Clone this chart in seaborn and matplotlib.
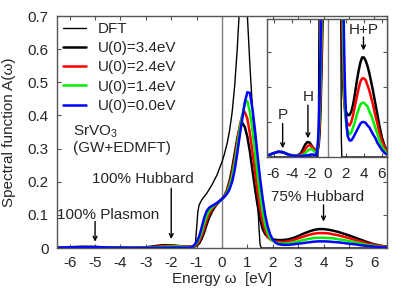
import numpy as np
import pandas as pd
import matplotlib
matplotlib.use("Agg")
import matplotlib.pyplot as plt
import seaborn as sns

# ---------------- data ----------------
omega = [-6.5, -6.0, -5.5, -5.0, -4.5, -4.0, -3.5, -3.0, -2.75, -2.5, -2.25, -2.0,
         -1.75, -1.5, -1.3, -1.2, -1.1, -1.0, -0.9, -0.8, -0.7, -0.6, -0.5, -0.4,
         -0.3, -0.2, -0.1, 0.0, 0.1, 0.2, 0.3, 0.4, 0.5, 0.6, 0.7, 0.8, 0.9, 1.0,
         1.1, 1.2, 1.3, 1.4, 1.5, 1.6, 1.7, 1.8, 1.9, 2.0, 2.1, 2.2, 2.4, 2.6, 2.8,
         3.0, 3.2, 3.4, 3.6, 3.8, 4.0, 4.2, 4.4, 4.6, 4.8, 5.0, 5.25, 5.5, 5.75,
         6.0, 6.25, 6.5]

A_U34 = [0.0012, 0.0022, 0.0030, 0.0028, 0.0017, 0.0008, 0.0006, 0.0020, 0.0045, 0.0072, 0.0086, 0.0082,
         0.0062, 0.0045, 0.0040, 0.0040, 0.0040, 0.007, 0.014, 0.028, 0.048, 0.072, 0.093, 0.109,
         0.122, 0.132, 0.140, 0.148, 0.158, 0.176, 0.203, 0.240, 0.285, 0.330, 0.365, 0.377, 0.365, 0.335,
         0.290, 0.235, 0.180, 0.130, 0.088, 0.058, 0.042, 0.033, 0.028, 0.026, 0.025, 0.024, 0.024, 0.026, 0.030,
         0.036, 0.043, 0.049, 0.054, 0.057, 0.057, 0.055, 0.052, 0.048, 0.043, 0.038, 0.031, 0.024, 0.017,
         0.011, 0.007, 0.004]

A_U24 = [0.0012, 0.0022, 0.0030, 0.0028, 0.0017, 0.0008, 0.0005, 0.0012, 0.0025, 0.0045, 0.0062, 0.0068,
         0.0058, 0.0042, 0.0030, 0.0040, 0.0050, 0.010, 0.020, 0.037, 0.060, 0.085, 0.103, 0.116,
         0.126, 0.134, 0.141, 0.148, 0.157, 0.172, 0.195, 0.228, 0.270, 0.320, 0.370, 0.400, 0.410, 0.390,
         0.345, 0.290, 0.230, 0.170, 0.120, 0.080, 0.052, 0.035, 0.026, 0.022, 0.020, 0.019, 0.018, 0.020, 0.024,
         0.029, 0.034, 0.039, 0.043, 0.045, 0.045, 0.044, 0.041, 0.038, 0.034, 0.030, 0.024, 0.019, 0.013,
         0.009, 0.006, 0.003]

A_U14 = [0.0012, 0.0022, 0.0030, 0.0028, 0.0017, 0.0008, 0.0005, 0.0008, 0.0012, 0.0022, 0.0035, 0.0045,
         0.0045, 0.0032, 0.0020, 0.0030, 0.0060, 0.014, 0.027, 0.048, 0.075, 0.098, 0.113, 0.122,
         0.129, 0.135, 0.141, 0.148, 0.156, 0.168, 0.187, 0.215, 0.255, 0.305, 0.360, 0.400, 0.437, 0.443,
         0.410, 0.355, 0.290, 0.220, 0.160, 0.110, 0.070, 0.045, 0.029, 0.021, 0.017, 0.015, 0.013, 0.014, 0.017,
         0.020, 0.024, 0.027, 0.030, 0.031, 0.031, 0.030, 0.029, 0.026, 0.024, 0.021, 0.017, 0.013, 0.009,
         0.006, 0.004, 0.002]

A_U00 = [0.0012, 0.0022, 0.0030, 0.0028, 0.0017, 0.0008, 0.0006, 0.0006, 0.0007, 0.0008, 0.0010, 0.0012,
         0.0015, 0.0012, 0.0010, 0.0030, 0.0080, 0.018, 0.035, 0.062, 0.092, 0.112, 0.122, 0.127,
         0.131, 0.136, 0.142, 0.148, 0.155, 0.164, 0.178, 0.200, 0.235, 0.285, 0.340, 0.390, 0.440, 0.470,
         0.468, 0.420, 0.355, 0.280, 0.210, 0.150, 0.100, 0.065, 0.040, 0.026, 0.017, 0.012, 0.0095, 0.0095, 0.011,
         0.013, 0.015, 0.017, 0.019, 0.020, 0.020, 0.0195, 0.018, 0.017, 0.015, 0.013, 0.011, 0.008, 0.006,
         0.004, 0.0025, 0.0015]

omega_dft = [-6.5, -1.1, -1.05, -1.0, -0.95, -0.9, -0.8, -0.6, -0.4, -0.2, 0.0, 0.1, 0.2, 0.3,
             0.4, 0.5, 0.6, 0.7, 0.8, 0.85, 0.9, 1.0, 1.1, 1.2, 1.3, 1.4, 1.45, 1.5, 1.55, 6.5]
A_dft = [0.0, 0.0, 0.01, 0.06, 0.11, 0.13, 0.145, 0.165, 0.19, 0.22, 0.26, 0.285, 0.315, 0.355,
         0.41, 0.49, 0.60, 0.74, 0.95, 1.05, 0.95, 0.70, 0.55, 0.42, 0.29, 0.15, 0.07, 0.01, 0.0, 0.0]

series_labels = ["U(0)=3.4eV", "U(0)=2.4eV", "U(0)=1.4eV", "U(0)=0.0eV"]
series_values = [A_U34, A_U24, A_U14, A_U00]
series_colors = ["#000000", "#ff0000", "#00ee00", "#0000ff"]

main_xticks = [-6, -5, -4, -3, -2, -1, 0, 1, 2, 3, 4, 5, 6]
main_yticks = [0, 0.1, 0.2, 0.3, 0.4, 0.5, 0.6, 0.7]
main_yticklabels = ["0", "0.1", "0.2", "0.3", "0.4", "0.5", "0.6", "0.7"]
inset_xticks = [-6, -4, -2, 0, 2, 4, 6]
inset_yticks = [0, 0.02, 0.04, 0.06]

# ---------------- style ----------------
sns.set_style("ticks")
plt.rcParams["font.family"] = ["Liberation Sans", "DejaVu Sans"]
plt.rcParams["font.size"] = 11
plt.rcParams["axes.unicode_minus"] = False
plt.rcParams["mathtext.fontset"] = "custom"
plt.rcParams["mathtext.rm"] = "Liberation Sans"

spine_col = "#555555"
FS = 11

fig = plt.figure(figsize=(4.15, 2.91), dpi=100)
ax = fig.add_axes([57 / 415, 1 - 248 / 291, 330 / 415, 232 / 291])

dft_df = pd.DataFrame({"omega": omega_dft, "A": A_dft})
ax.axvline(0, color="#808080", lw=1.0, zorder=1)
sns.lineplot(data=dft_df, x="omega", y="A", ax=ax, color="black", lw=1.0,
             label="DFT", estimator=None, sort=False)
for lab, vals, col in zip(series_labels, series_values, series_colors):
    df = pd.DataFrame({"omega": omega, "A": vals})
    sns.lineplot(data=df, x="omega", y="A", ax=ax, color=col, lw=1.8,
                 label=lab, estimator=None, sort=False)

ax.set_xlim(-6.5, 6.5)
ax.set_ylim(0, 0.7)
ax.set_xticks(main_xticks)
ax.set_yticks(main_yticks)
ax.set_yticklabels(main_yticklabels)
ax.set_xlabel("Energy ω  [eV]", labelpad=1, fontsize=FS)
ax.set_ylabel("Spectral function A(ω)", labelpad=8, fontsize=FS)
ax.tick_params(direction="in", length=3, width=0.8, top=True, right=True,
               color=spine_col, pad=6, labelsize=FS)
for s in ax.spines.values():
    s.set_color(spine_col)
    s.set_linewidth(1.0)

leg = ax.legend(loc="upper left", bbox_to_anchor=(0.0, 1.0), frameon=False,
                handlelength=1.5, handletextpad=0.75, labelspacing=0.34,
                borderaxespad=0.1, borderpad=0.3, fontsize=FS)

ax.text(-5.88, 0.351, "SrVO$_3$", ha="left", va="center", fontsize=FS)
ax.text(-5.88, 0.302, "(GW+EDMFT)", ha="left", va="center", fontsize=FS)

arrow = dict(arrowstyle="->", color="black", lw=1.0, shrinkA=0, shrinkB=0,
             mutation_scale=7)
ax.text(-3.13, 0.208, "100% Hubbard", ha="center", va="center", fontsize=FS)
ax.annotate("", xy=(-2.0, 0.027), xytext=(-2.0, 0.18), arrowprops=arrow)
ax.text(-4.5, 0.10, "100% Plasmon", ha="center", va="center", fontsize=FS)
ax.annotate("", xy=(-5.0, 0.019), xytext=(-5.0, 0.08), arrowprops=arrow)
ax.text(3.76, 0.153, "75% Hubbard", ha="center", va="center", fontsize=FS)
ax.annotate("", xy=(4.0, 0.08), xytext=(4.0, 0.13), arrowprops=arrow)

# ---------------- inset ----------------
axin = fig.add_axes([267.3 / 415, 1 - 157 / 291, (386.5 - 267.3) / 415, 138 / 291])
axin.set_facecolor("white")
axin.axvline(0, color="#808080", lw=1.0, zorder=1)
sns.lineplot(data=dft_df, x="omega", y="A", ax=axin, color="black", lw=1.0,
             estimator=None, sort=False, legend=False)
for vals, col in zip(series_values, series_colors):
    df = pd.DataFrame({"omega": omega, "A": vals})
    sns.lineplot(data=df, x="omega", y="A", ax=axin, color=col, lw=1.8,
                 estimator=None, sort=False, legend=False)
axin.set_xlim(-6.7, 6.5)
axin.set_ylim(0, 0.079)
axin.set_xticks(inset_xticks)
axin.set_yticks(inset_yticks)
axin.set_yticklabels([])
axin.set_xlabel("")
axin.set_ylabel("")
axin.tick_params(direction="in", length=3, width=0.8, top=True, right=True,
                 color=spine_col, pad=7, labelsize=FS)
for s in axin.spines.values():
    s.set_color(spine_col)
    s.set_linewidth(1.0)

axin.text(-5.0, 0.024, "P", ha="center", va="center", fontsize=FS)
axin.annotate("", xy=(-5.0, 0.005), xytext=(-5.0, 0.0192), arrowprops=arrow)
axin.text(-2.2, 0.0341, "H", ha="center", va="center", fontsize=FS)
axin.annotate("", xy=(-2.2, 0.0107), xytext=(-2.2, 0.0297), arrowprops=arrow)
axin.text(3.95, 0.0726, "H+P", ha="center", va="center", fontsize=FS)
axin.annotate("", xy=(3.95, 0.061), xytext=(3.95, 0.0687), arrowprops=arrow)

fig.savefig("out.png", dpi=100)
